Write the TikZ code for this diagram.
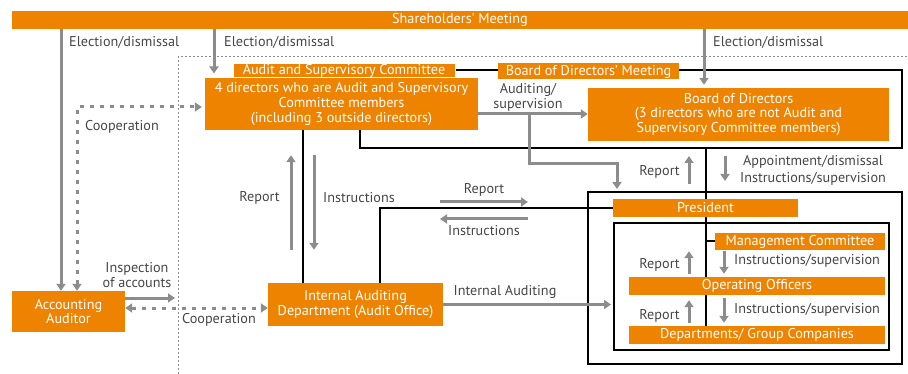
\documentclass[tikz,border=0pt]{standalone}
\usepackage{fontspec}
\setmainfont{PT Sans}
\usetikzlibrary{calc,positioning,arrows.meta,backgrounds}
\definecolor{orgfill}{RGB}{238,131,0}
\definecolor{arrgray}{RGB}{140,140,140}
\definecolor{txtgray}{RGB}{70,70,70}
\tikzset{
orgbox/.style={
  fill=orgfill,
  text=white,
  inner sep=0pt,
  align=center,
  minimum width=#1
  },
framebox/.style={draw=black, line width=2pt, inner sep=0pt},
blackline/.style={draw=black, line width=2pt},
garrow/.style={draw=arrgray, line width=3pt, -{Triangle[width=9pt,length=7pt]}},
coop/.style={garrow, dash pattern=on 4pt off 6pt,
  {Triangle[width=9pt,length=7pt]}-{Triangle[width=9pt,length=7pt]}},
lbl/.style={text=txtgray, inner sep=0pt, align=center}
}

\begin{document}
\begin{tikzpicture}[x=1pt,y=-1pt,font=\fontsize{14.2}{14.8}\selectfont]
\useasboundingbox (0,0) rectangle (908,374);
\draw[arrgray, line width=1pt, dash pattern=on 2pt off 2pt] (178,374) |- (908,57);
% frames
\node[framebox, minimum width=542pt, minimum height=78pt] (bodframe) at (631,109) {};
\node[framebox, minimum width=314pt, minimum height=172pt] (presframe) at (745,278) {};
\node[framebox, minimum width=275pt, minimum height=127pt] (innerframe) at (751.5,286.5) {};

% boxes
\node[orgbox=896pt, minimum height=18pt] (sm) at (460,20) {Shareholders' Meeting};
\node[orgbox=273pt, minimum height=52pt] (ascbox) at (341.5,104)
  {4 directors who are Audit and Supervisory\\Committee members\\(including 3 outside directors)};
\node[orgbox=222pt, minimum height=14pt, draw=white, line width=1pt] (asclbl) at (344,71)
  {Audit and Supervisory Committee};
\node[orgbox=181pt, minimum height=16pt] (bodlbl) at (588.5,71.5) {Board of Directors' Meeting};
\node[orgbox=301pt, minimum height=53pt] (bod) at (738.5,114.5)
  {Board of Directors\\(3 directors who are not Audit and\\Supervisory Committee members)};
\node[orgbox=113pt, minimum height=41pt] (aa) at (68.5,311.5) {Accounting\\Auditor};
\node[orgbox=175pt, minimum height=43pt] (iad) at (355.5,304.5) {Internal Auditing\\Department (Audit Office)};
\node[orgbox=185pt, minimum height=18pt] (pres) at (705.5,208) {President};
\node[orgbox=170pt, minimum height=17pt] (mc) at (800,241.5) {Management Committee};
\node[orgbox=256pt, minimum height=18pt] (oo) at (757,286) {Operating Officers};
\node[orgbox=256pt, minimum height=18pt] (dept) at (757,335) {Departments/ Group Companies};

\begin{pgfonlayer}{background}
\draw[blackline] (303,0 |- ascbox.south) -- (303,0 |- iad.north);
\draw[blackline] (380,0 |- iad.north) |- (pres.west);
\draw[blackline] (pres.center |- bodframe.south) -- (pres.center |- dept.north);
\draw[blackline] (pres.center |- mc.west) -- (mc.west);
\end{pgfonlayer}

% election
\draw[garrow] (sm.south -| 61,0) -- (aa.north -| 61,0);
\draw[garrow, shorten >=5pt] (sm.south -| 214,0) -- (214,0 |- asclbl.south);
\draw[garrow, shorten >=3pt] (sm.south -| 704,0) -- (704,0 |- bod.north);
\node[lbl, anchor=west] (el1) at (69,42) {Election/dismissal};
\node[lbl, anchor=west] (el2) at (224,42) {Election/dismissal};
\node[lbl, anchor=west] (el3) at (713,42) {Election/dismissal};

% auditing / supervision
\coordinate (audsplit) at (529,114);
\draw[garrow] (ascbox.east |- audsplit) -- (bod.west |- audsplit);
\node[lbl] (audlbl) at (528,97) {Auditing/\\supervision};
\draw[garrow, shorten >=2pt] (audsplit) -- (529,164) -| (617,0 |- presframe.north);

% audit committee <-> internal auditing
\draw[garrow, shorten <=33pt, shorten >=25pt] (291,0 |- iad.north) -- (291,0 |- ascbox.south);
\draw[garrow, shorten <=25pt, shorten >=33pt] (314,0 |- ascbox.south) -- (314,0 |- iad.north);
\node[lbl, anchor=east] (rep1) at (280,198) {Report};
\node[lbl, anchor=west] (ins1) at (323,198) {Instructions};

\coordinate (rptL) at (440,202);
\coordinate (rptR) at (528,202);
\coordinate (insL) at (440,219);
\coordinate (insR) at (528,219);
\draw[garrow] (rptL) -- (rptR);
\draw[garrow] (insR) -- (insL);
\node[lbl] (rep2) at (484,190) {Report};
\node[lbl] (ins2) at (484,231) {Instructions};

% board <-> president
\draw[garrow, shorten <=7pt, shorten >=7pt] (689,0 |- presframe.north) -- (689,0 |- bodframe.south);
\draw[garrow, shorten <=7pt, shorten >=10pt] (725,0 |- bodframe.south) -- (725,0 |- presframe.north);
\node[lbl, anchor=east] (rep3) at (680,172) {Report};
\node[lbl, font=\fontsize{14.2}{17}\selectfont] (appt) at (813,170) {Appointment/dismissal\\Instructions/supervision};

% inside
\draw[garrow, shorten <=3pt, shorten >=1pt] (689,0 |- oo.north) -- (689,0 |- mc.south);
\draw[garrow, shorten <=1pt, shorten >=3pt] (724,0 |- mc.south) -- (724,0 |- oo.north);
\node[lbl, anchor=east] (rep4) at (680,265) {Report};
\node[lbl, anchor=west] (ins4) at (734,261) {Instructions/supervision};
\draw[garrow, shorten <=3pt, shorten >=5pt] (689,0 |- dept.north) -- (689,0 |- oo.south);
\draw[garrow, shorten <=3pt, shorten >=3pt] (724,0 |- oo.south) -- (724,0 |- dept.north);
\node[lbl, anchor=east] (rep5) at (680,316) {Report};
\node[lbl, anchor=west] (ins5) at (734,310) {Instructions/supervision};

\draw[garrow, shorten >=2pt] (iad.east) -- (innerframe.west |- iad.east);
\node[lbl] (ialbl) at (505,292) {Internal Auditing};

% accounting auditor
\draw[coop, shorten >=3pt] (aa.north -| 77,0) |- (ascbox.west |- 0,107);
\node[lbl, anchor=west] (coop1) at (85,127) {Cooperation};
\draw[garrow] (aa.east |- 0,298) -- (175,298);
\node[lbl] (insp) at (137,275) {Inspection\\of accounts};
\draw[coop] (aa.east |- 0,308) -- (iad.west |- 0,308);
\node[lbl, anchor=west] (coop2) at (182,320) {Cooperation};
\end{tikzpicture}
\end{document}
